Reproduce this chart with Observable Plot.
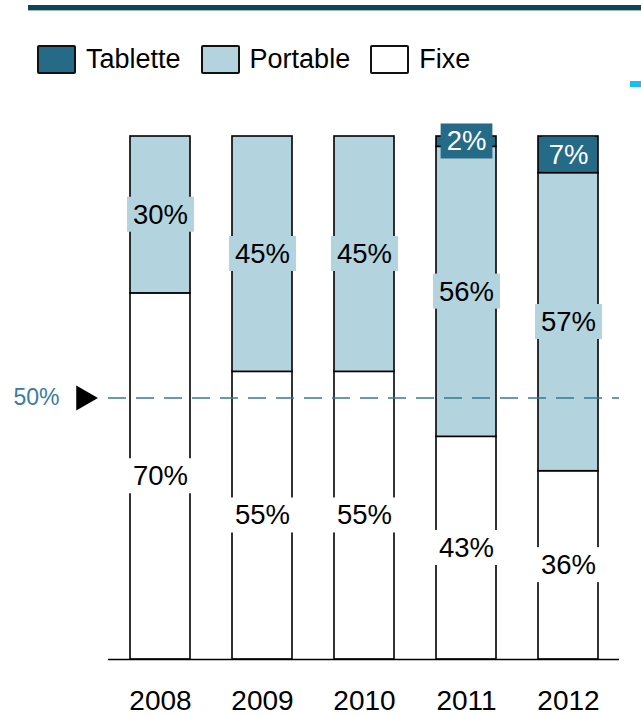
<!DOCTYPE html>
<html>
<head>
<meta charset="utf-8">
<script src="https://cdn.jsdelivr.net/npm/d3@7"></script>
<script src="https://cdn.jsdelivr.net/npm/@observablehq/plot@0.6"></script>
<style>
  html, body { margin: 0; padding: 0; background: #fff; }
  body { width: 641px; height: 715px; overflow: hidden; font-family: "Liberation Sans", Arial, sans-serif; }
  #header { position: relative; height: 100px; }
  #topline { position: absolute; left: 28px; right: 0; top: 5px; height: 5px; background: #0e4659; border-bottom: 1px solid #9fb8c2; }
  #legend { position: absolute; left: 37px; top: 44px; display: flex; align-items: center; font-size: 27px; color: #000; }
  .item { display: flex; align-items: center; margin-right: 20px; }
  .sw { width: 35px; height: 25px; border: 2px solid #111; border-radius: 2px; margin-right: 10px; }
  #cyan { position: absolute; left: 630px; top: 81px; width: 11px; height: 6px; background: #1bbcf0; }
</style>
</head>
<body>
<div id="header">
  <div id="topline"></div>
  <div id="legend"></div>
  <div id="cyan"></div>
</div>
<div id="chart"></div>
<script>
const years = ["2008", "2009", "2010", "2011", "2012"];
const fixe = [70, 55, 55, 43, 36];
const portable = [30, 45, 45, 56, 57];
const tablette = [0, 0, 0, 2, 7];
const seriesNames = ["Tablette", "Portable", "Fixe"];
const seriesColors = ["#256a87", "#b3d3de", "#ffffff"];
const labelColors = ["#ffffff", "#000000", "#000000"];
const refLine = [50];
const refLabel = ["50%"];

const colorOf = Object.fromEntries(seriesNames.map((s, i) => [s, seriesColors[i]]));
const textColorOf = Object.fromEntries(seriesNames.map((s, i) => [s, labelColors[i]]));

// legend
const legend = document.getElementById("legend");
seriesNames.forEach((s, i) => {
  const it = document.createElement("div");
  it.className = "item";
  const sw = document.createElement("div");
  sw.className = "sw";
  sw.style.background = seriesColors[i];
  const tx = document.createElement("span");
  tx.textContent = s;
  it.appendChild(sw); it.appendChild(tx);
  legend.appendChild(it);
});

const data = [];
years.forEach((y, i) => {
  data.push({year: y, type: "Fixe", value: fixe[i]});
  data.push({year: y, type: "Portable", value: portable[i]});
  data.push({year: y, type: "Tablette", value: tablette[i]});
});
const labelData = data.filter(d => d.value > 0);
const order = ["Fixe", "Portable", "Tablette"];

const plot = Plot.plot({
  width: 641,
  height: 615,
  marginTop: 36,
  marginBottom: 56,
  marginLeft: 108,
  marginRight: 22,
  style: {fontFamily: "'Liberation Sans', Arial, sans-serif", background: "#fff", overflow: "visible"},
  x: {domain: years, paddingInner: 0.413, paddingOuter: 0.205, label: null},
  y: {domain: [0, 1], axis: null},
  color: {domain: seriesNames, range: seriesColors},
  marks: [
    Plot.barY(data, Plot.stackY({x: "year", y: "value", z: "type", fill: "type", order, offset: "normalize", stroke: "#000", strokeWidth: 1.6})),
    Plot.ruleY(refLine.map(v => v / 100), {stroke: "#3a7893", strokeWidth: 1.6, strokeDasharray: "18,10"}),
    Plot.ruleY([0], {stroke: "#000", strokeWidth: 1.6}),
    Plot.dot(refLine.map(v => v / 100), {y: d => d, frameAnchor: "left", dx: -25, symbol: "triangle", r: 9.3, rotate: 90, fill: "#000", stroke: "none"}),
    Plot.text(refLine.map(v => v / 100), {y: d => d, frameAnchor: "left", dx: -49, text: (d, i) => refLabel[i], textAnchor: "end", fill: "#3a7d9c", fontSize: 23}),
    Plot.text(labelData, Plot.stackY({x: "year", y: "value", z: "type", order, offset: "normalize", text: d => d.value + "%", fill: d => textColorOf[d.type], fontSize: 27.5, className: "vlabel"})),
    Plot.axisX({tickSize: 0, tickPadding: 31, fontSize: 28, fill: "#000", label: null})
  ]
});
document.getElementById("chart").appendChild(plot);

// background boxes behind value labels
const texts = plot.querySelectorAll("g.vlabel text");
texts.forEach((t, i) => {
  const d = labelData[i];
  const bb = t.getBBox();
  const r = document.createElementNS("http://www.w3.org/2000/svg", "rect");
  const padX = 6, padY = 2;
  r.setAttribute("x", bb.x - padX);
  r.setAttribute("y", bb.y - padY);
  r.setAttribute("width", bb.width + 2 * padX);
  r.setAttribute("height", bb.height + 2 * padY);
  r.setAttribute("fill", colorOf[d.type]);
  const tr = t.getAttribute("transform");
  if (tr) r.setAttribute("transform", tr);
  t.parentNode.insertBefore(r, t);
});
</script>
</body>
</html>
